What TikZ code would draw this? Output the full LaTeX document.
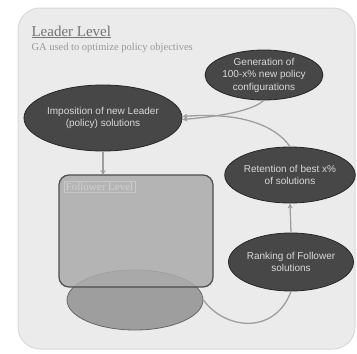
\documentclass[tikz,border=0pt]{standalone}
\usepackage{fontspec}
\setmainfont{Liberation Serif}
\setsansfont{Liberation Sans}
\usetikzlibrary{shapes.geometric,arrows.meta}

\tikzset{
  darkoval/.style={ellipse, draw=black!85, line width=0.8pt, fill=black!72,
    text=white!85!black, align=center, inner sep=0pt,
    font=\sffamily\fontsize{10}{12.5}\selectfont},
  link/.style={draw=black!38, line width=1.3pt},
}

\begin{document}
\begin{tikzpicture}[x=1pt, y=-1pt, >={Stealth[length=5pt,width=5pt]}]
  \useasboundingbox (0,0) rectangle (357,354);

  % Leader level frame
  \draw[draw=black!15, fill=black!8, line width=1pt, rounded corners=22pt]
    (18,8) rectangle (355,349);
  \node[anchor=west, text=black!55, font=\fontsize{15}{17}\selectfont] (leadtitle) at (28,32)
    {\underline{Leader Level}};
  \node[anchor=west, text=black!40, font=\fontsize{10.5}{12}\selectfont] (leadsub) at (28,48)
    {GA used to optimize policy objectives};

  % Follower level box and its population
  \node[ellipse, draw=black!60, fill=black!38, line width=0.8pt,
    minimum width=136pt, minimum height=60pt] (pop) at (135,300) {};
  \draw[draw=black!70, fill=black!33, fill opacity=0.85, line width=1.2pt,
    rounded corners=10pt] (59,175) rectangle (213,287);
  \coordinate (foltop) at (103,175);
  \node[anchor=west, draw=black!22, text=black!18, inner sep=1.5pt,
    font=\fontsize{11}{13}\selectfont] (foltitle) at (64,187) {Follower Level};

  % GA steps
  \node[darkoval, minimum width=145pt, minimum height=66pt] (impose) at (103,118)
    {Imposition of new Leader\\(policy) solutions};
  \node[darkoval, minimum width=104pt, minimum height=50pt] (gen) at (264,75)
    {Generation of\\100-x\% new policy\\configurations};
  \node[darkoval, minimum width=116pt, minimum height=56pt] (retain) at (290,175)
    {Retention of best x\%\\of solutions};
  \node[darkoval, minimum width=122pt, minimum height=58pt] (rank) at (291,262)
    {Ranking of Follower\\solutions};

  % Connectors
  \draw[link, ->] (impose.south) -- (foltop);
  \draw[link] (pop.east) .. controls (225,330) and (275,335) .. (rank.south);
  \draw[link, ->] (rank.north) -- (retain.south);
  \draw[link, ->] (retain.north) .. controls (275,125) and (240,112) .. ([yshift=1.5pt]impose.east);
  \draw[link, ->] (gen.south) .. controls (255,108) and (235,115) .. ([yshift=-1.5pt]impose.east);
\end{tikzpicture}
\end{document}
